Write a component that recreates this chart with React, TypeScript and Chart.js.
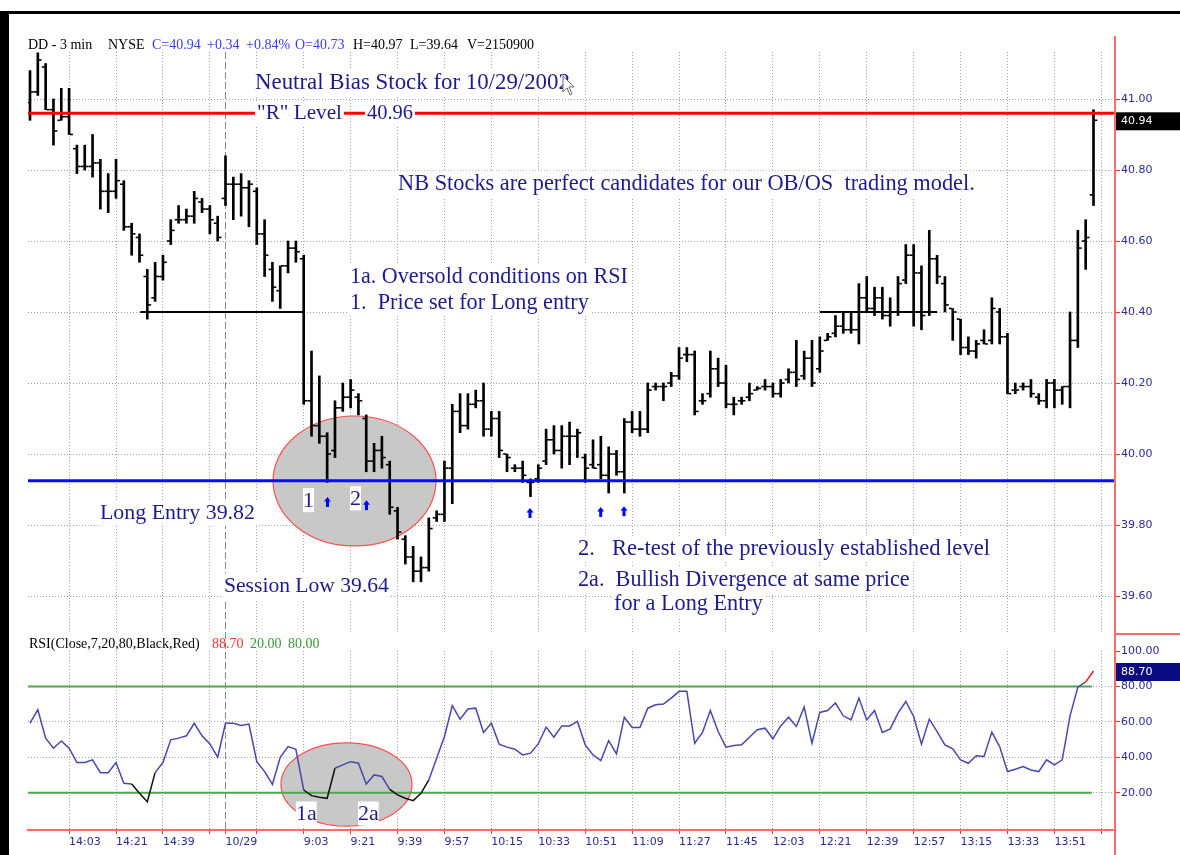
import React, { useEffect, useRef } from 'react';
import { Chart, registerables } from 'chart.js';

Chart.register(...registerables);

// ---------- DATA (3-min bars, DD, 10/28 13:48 -> 10/29 14:06) ----------
const barHigh = [41.08,41.13,41.10,41.00,41.03,41.03,40.87,40.87,40.90,40.83,
40.79,40.83,40.77,40.65,40.62,40.52,40.54,40.56,40.66,40.70,
40.69,40.74,40.72,40.70,40.67,40.84,40.78,40.79,40.77,40.75,
40.66,40.54,40.53,40.60,40.60,40.56,40.29,40.22,40.06,40.15,
40.20,40.21,40.17,40.11,40.03,40.05,39.98,39.85,39.77,39.74,
39.71,39.82,39.84,39.98,40.14,40.17,40.17,40.18,40.20,40.12,
40.12,40.00,39.97,39.98,39.93,39.97,40.07,40.08,40.08,40.09,
40.07,40.00,40.04,40.05,40.02,40.01,40.10,40.12,40.12,40.20,
40.20,40.20,40.23,40.30,40.30,40.29,40.17,40.29,40.27,40.25,
40.16,40.16,40.20,40.19,40.21,40.20,40.21,40.24,40.32,40.29,
40.32,40.33,40.34,40.39,40.40,40.40,40.48,40.50,40.47,40.47,
40.44,40.50,40.59,40.59,40.53,40.63,40.56,40.50,40.41,40.38,
40.33,40.32,40.35,40.44,40.41,40.34,40.20,40.20,40.21,40.17,
40.21,40.21,40.19,40.40,40.63,40.66,40.97];

const barLow = [40.94,41.01,40.97,40.87,40.94,40.90,40.79,40.80,40.78,40.69,
40.68,40.72,40.63,40.56,40.54,40.38,40.43,40.49,40.59,40.65,
40.65,40.65,40.68,40.62,40.60,40.70,40.66,40.67,40.64,40.59,
40.50,40.43,40.41,40.51,40.54,40.14,40.05,40.03,39.92,39.99,
40.12,40.13,40.11,39.95,39.95,39.96,39.83,39.76,39.69,39.64,
39.64,39.67,39.81,39.81,39.86,40.06,40.07,40.13,40.05,40.05,
39.99,39.95,39.95,39.92,39.88,39.92,39.97,40.00,39.96,39.97,
39.99,39.92,39.96,39.93,39.89,39.94,39.89,40.06,40.05,40.06,
40.18,40.15,40.19,40.21,40.26,40.11,40.14,40.16,40.19,40.13,
40.11,40.14,40.15,40.18,40.18,40.16,40.16,40.20,40.19,40.21,
40.19,40.23,40.32,40.33,40.34,40.34,40.31,40.40,40.39,40.38,
40.36,40.39,40.48,40.36,40.35,40.39,40.48,40.40,40.32,40.28,
40.28,40.27,40.31,40.31,40.31,40.17,40.17,40.18,40.16,40.14,
40.13,40.13,40.14,40.13,40.30,40.52,40.70];

const barOpen = [40.99,41.02,41.09,40.97,40.94,40.95,40.86,40.81,40.81,40.82,
40.74,40.74,40.76,40.64,40.61,40.50,40.44,40.50,40.60,40.66,
40.66,40.67,40.71,40.69,40.65,40.72,40.76,40.76,40.75,40.74,
40.62,40.52,40.46,40.53,40.58,40.55,40.15,40.08,40.05,40.01,
40.13,40.16,40.16,40.10,39.98,40.01,39.97,39.84,39.76,39.71,
39.67,39.68,39.82,39.83,39.96,40.12,40.08,40.14,40.15,40.07,
40.10,40.00,39.96,39.96,39.92,39.93,39.98,40.04,40.01,40.05,
40.05,39.99,39.97,39.97,39.94,40.00,39.95,40.09,40.07,40.07,
40.19,40.19,40.20,40.22,40.28,40.28,40.15,40.17,40.24,40.20,
40.14,40.15,40.16,40.18,40.19,40.19,40.17,40.21,40.23,40.22,
40.27,40.24,40.32,40.34,40.36,40.35,40.35,40.44,40.41,40.44,
40.39,40.40,40.49,40.56,40.51,40.40,40.55,40.48,40.41,40.38,
40.30,40.29,40.32,40.32,40.40,40.33,40.18,40.19,40.19,40.16,
40.15,40.20,40.18,40.19,40.32,40.60,40.73];

const barClose = [41.02,41.11,40.97,40.91,40.95,40.90,40.81,40.81,40.82,40.74,
40.74,40.77,40.64,40.62,40.56,40.42,40.50,40.54,40.63,40.66,
40.67,40.72,40.69,40.66,40.61,40.76,40.76,40.75,40.76,40.62,
40.56,40.47,40.53,40.58,40.57,40.15,40.08,40.05,40.00,40.13,
40.16,40.18,40.15,39.98,40.01,39.99,39.85,39.78,39.71,39.67,
39.68,39.79,39.83,39.96,40.12,40.08,40.14,40.15,40.07,40.10,
40.01,39.99,39.96,39.94,39.92,39.96,40.04,40.01,40.05,40.05,
40.06,39.96,39.96,39.94,40.00,39.95,40.09,40.07,40.07,40.18,
40.19,40.19,40.22,40.27,40.28,40.12,40.15,40.24,40.20,40.14,
40.14,40.15,40.17,40.185,40.19,40.17,40.20,40.23,40.21,40.27,
40.20,40.29,40.33,40.36,40.35,40.35,40.44,40.41,40.44,40.39,
40.40,40.48,40.56,40.51,40.39,40.55,40.50,40.42,40.40,40.30,
40.29,40.31,40.31,40.41,40.33,40.17,40.18,40.19,40.17,40.15,
40.20,40.18,40.19,40.32,40.58,40.61,40.94];

const rsiValues = [59.2,66.8,50.8,45.1,49.2,45.1,37,37,38.5,31.3,
31.3,37,25.3,24.9,19.6,14.9,31.3,37,49.8,50.8,
52.1,59.2,52.1,47.5,40,59.2,59.2,57.9,58.7,37.5,
31.9,24.7,40,46,44.5,21.5,18.3,17.4,16.8,33.8,
35.7,37.5,36.6,24.9,30,29.1,21.9,18.7,16.8,15.5,
19.6,27.2,39.4,51.7,69.1,61.5,67.2,67.7,54,59.2,
47.4,45.7,44.5,41.3,42.3,47.5,57,51.3,57.7,57.7,
60.2,47,41.3,38.1,49.4,41.9,62.6,56.8,56.8,67.7,
69.6,70,73.4,77.2,77.2,47.9,54,66.4,54.5,45.7,
46.6,47,51.3,55.5,56.4,50.4,57.7,62.6,57.4,68.3,
47.9,65.3,66.4,70.6,63.4,61.1,73.4,61.1,66.4,54,
56,64.9,71.5,63,47.4,61.5,54.5,47,44.7,38.5,
36.6,40.8,40.4,54.2,46,31.9,33.2,34.7,32.8,31.9,
38.5,35.7,38.5,63.4,79.6,82.5,88.7];

const priceTicks = [39.6, 39.8, 40.0, 40.2, 40.4, 40.6, 40.8, 41.0];
const rsiTicks = [20, 40, 60, 80, 100];
const xTickIndex = [5, 11, 17, 23, 25, 29, 35, 41, 47, 53, 59, 65, 71, 77, 83, 89, 95, 101, 107, 113, 119, 125, 131, 137];
const xTickLabels = ['14:03', '14:21', '14:39', '', '10/29', '', '9:03', '9:21', '9:39', '9:57', '10:15', '10:33', '10:51', '11:09', '11:27', '11:45', '12:03', '12:21', '12:39', '12:57', '13:15', '13:33', '13:51', ''];

const resistanceLevel = 40.96;
const entryLevel = 39.925;
const pivotLevel = 40.40;
const pivotSpans = [[14.1, 34.9], [101.0, 116.0]];
const dayBreakIndex = 25;
const overbought = 80;
const oversold = 20;
const rsiGuideEnd = 135.8;

// ---------- STYLE / LAYOUT ----------
const NAVY = '#1c1c8c';
const AXIS_NAVY = '#2a2a98';
const SERIF = '"Liberation Serif", "Times New Roman", serif';
const SANS = '"DejaVu Sans", Verdana, sans-serif';
const GRID = '#a2a2a2';
const AXIS_RED = '#ff6a6a';
const TICK_RED = '#ff3030';

const X_MIN = -0.256;
const X_MAX = 138.75;
const PRICE_MIN = 39.4986;
const PRICE_MAX = 41.1324;
const RSI_MIN = -1.1;
const RSI_MAX = 100;

type Note = { text: string; x: number; y: number; w: number };
const priceNotes: Note[] = [
  { text: 'Neutral Bias Stock for 10/29/2002', x: 28.77, y: 41.045, w: 315 },
  { text: '"R" Level', x: 29.03, y: 40.958, w: 85 },
  { text: '40.96', x: 43.09, y: 40.958, w: 46 },
  { text: 'NB Stocks are perfect candidates for our OB/OS  trading model.', x: 47.06, y: 40.761, w: 577 },
  { text: '1a. Oversold conditions on RSI', x: 40.92, y: 40.499, w: 278 },
  { text: '1.  Price set for Long entry', x: 40.92, y: 40.425, w: 239 },
  { text: 'Long Entry 39.82', x: 8.95, y: 39.834, w: 155 },
  { text: 'Session Low 39.64', x: 24.81, y: 39.628, w: 165 },
  { text: '2.   Re-test of the previously established level', x: 70.08, y: 39.732, w: 412 },
  { text: '2a.  Bullish Divergence at same price', x: 70.08, y: 39.645, w: 332 },
  { text: 'for a Long Entry', x: 74.68, y: 39.577, w: 149 },
];
const priceTags = [
  { text: '1', x: 34.91, y: 39.870 },
  { text: '2', x: 40.92, y: 39.875 },
];
const rsiTags = [
  { text: '1a', x: 34.0, y: 8.2 },
  { text: '2a', x: 41.94, y: 8.2 },
];
const arrowMarks = [
  { x: 38.04, y: 39.879 },
  { x: 43.03, y: 39.870 },
  { x: 63.94, y: 39.848 },
  { x: 72.98, y: 39.851 },
  { x: 75.96, y: 39.853 },
];
const cursorMark = { x: 68.16, y: 41.065 };
const priceEllipse = { x: 41.5, y: 39.924, rx: 10.42, ry: 0.183 };
const rsiEllipse = { x: 40.47, y: 24.6, rx: 8.38, ry: 23.5 };

const headerTokens = [
  { t: 'DD - 3 min', x: 28, c: '#000' },
  { t: 'NYSE', x: 108, c: '#000' },
  { t: 'C=40.94', x: 152, c: '#3b3bff' },
  { t: '+0.34', x: 207, c: '#3b3bff' },
  { t: '+0.84%', x: 246, c: '#3b3bff' },
  { t: 'O=40.73', x: 295, c: '#3b3bff' },
  { t: 'H=40.97', x: 353, c: '#000' },
  { t: 'L=39.64', x: 410, c: '#000' },
  { t: 'V=2150900', x: 467, c: '#000' },
];
const rsiHeaderTokens = [
  { t: 'RSI(Close,7,20,80,Black,Red)', x: 29, c: '#000' },
  { t: '88.70', x: 212, c: '#ff3030' },
  { t: '20.00', x: 250, c: '#3a9a3a' },
  { t: '80.00', x: 288, c: '#3a9a3a' },
];

// ---------- helpers ----------
function drawEllipse(ctx: CanvasRenderingContext2D, xs: any, ys: any, e: any) {
  const cx = xs.getPixelForValue(e.x);
  const cy = ys.getPixelForValue(e.y);
  const rx = Math.abs(xs.getPixelForValue(e.x + e.rx) - cx);
  const ry = Math.abs(ys.getPixelForValue(e.y + e.ry) - cy);
  ctx.beginPath();
  ctx.ellipse(cx, cy, rx, ry, 0, 0, Math.PI * 2);
  ctx.fillStyle = '#c8c8c8';
  ctx.fill();
  ctx.strokeStyle = '#ff4c4c';
  ctx.lineWidth = 1.2;
  ctx.stroke();
}

function drawNote(ctx: CanvasRenderingContext2D, text: string, x: number, cy: number, w: number) {
  ctx.font = `20px ${SERIF}`;
  const m = ctx.measureText(text).width;
  const size = (20 * w) / m;
  ctx.font = `${size}px ${SERIF}`;
  const h = size * 1.18;
  ctx.fillStyle = '#ffffff';
  ctx.fillRect(x - 2, cy - h / 2, w + 4, h);
  ctx.fillStyle = NAVY;
  ctx.textAlign = 'left';
  ctx.textBaseline = 'middle';
  ctx.fillText(text, x, cy);
}

function drawTag(ctx: CanvasRenderingContext2D, text: string, x: number, cy: number) {
  ctx.font = `22px ${SERIF}`;
  const w = ctx.measureText(text).width;
  ctx.fillStyle = '#ffffff';
  ctx.fillRect(x, cy - 12, w, 24);
  ctx.fillStyle = NAVY;
  ctx.textAlign = 'left';
  ctx.textBaseline = 'middle';
  ctx.fillText(text, x, cy + 1);
}

function drawArrow(ctx: CanvasRenderingContext2D, px: number, py: number) {
  ctx.fillStyle = '#0000ff';
  ctx.beginPath();
  ctx.moveTo(px, py);
  ctx.lineTo(px + 3.5, py + 4.5);
  ctx.lineTo(px - 3.5, py + 4.5);
  ctx.closePath();
  ctx.fill();
  ctx.fillRect(px - 1.5, py + 4, 3, 6);
}

function drawCursor(ctx: CanvasRenderingContext2D, px: number, py: number) {
  ctx.beginPath();
  ctx.moveTo(px, py);
  ctx.lineTo(px, py + 16);
  ctx.lineTo(px + 4, py + 12);
  ctx.lineTo(px + 7, py + 19);
  ctx.lineTo(px + 9, py + 18);
  ctx.lineTo(px + 6, py + 11);
  ctx.lineTo(px + 11, py + 11);
  ctx.closePath();
  ctx.fillStyle = '#ffffff';
  ctx.fill();
  ctx.strokeStyle = '#6a6a6a';
  ctx.lineWidth = 1;
  ctx.stroke();
}

function drawTokens(ctx: CanvasRenderingContext2D, tokens: any[], y: number) {
  ctx.font = `14px ${SERIF}`;
  ctx.textAlign = 'left';
  ctx.textBaseline = 'middle';
  tokens.forEach((tk) => {
    ctx.fillStyle = tk.c;
    ctx.fillText(tk.t, tk.x, y);
  });
}

function dayBreak(ctx: CanvasRenderingContext2D, xs: any, top: number, bottom: number) {
  const dx = Math.round(xs.getPixelForValue(dayBreakIndex)) + 0.5;
  ctx.save();
  ctx.strokeStyle = '#8a8a8a';
  ctx.lineWidth = 1;
  ctx.setLineDash([7, 3]);
  ctx.beginPath();
  ctx.moveTo(dx, top);
  ctx.lineTo(dx, bottom);
  ctx.stroke();
  ctx.restore();
}

const zeroPad = (s: any) => {
  s.paddingTop = 0;
  s.paddingBottom = 0;
  s.paddingLeft = 0;
  s.paddingRight = 0;
};

const xTicksBuilder = (s: any) => {
  s.ticks = xTickIndex.map((v) => ({ value: v }));
};
const xGridColor = (c: any) => (c.tick && c.tick.value === dayBreakIndex ? 'rgba(0,0,0,0)' : GRID);
const axisFont = { family: SANS, size: 11 };

export default function App() {
  const priceRef = useRef<HTMLCanvasElement | null>(null);
  const rsiRef = useRef<HTMLCanvasElement | null>(null);

  useEffect(() => {
    if (!priceRef.current || !rsiRef.current) return;

    const pricePlugin = {
      id: 'priceDecor',
      beforeDatasetsDraw(chart: any) {
        const { ctx, chartArea, scales } = chart;
        ctx.save();
        dayBreak(ctx, scales.x, chartArea.top, chartArea.bottom);
        drawEllipse(ctx, scales.x, scales.y, priceEllipse);
        ctx.restore();
      },
      afterDatasetsDraw(chart: any) {
        const { ctx, scales } = chart;
        ctx.save();
        priceNotes.forEach((n) => drawNote(ctx, n.text, scales.x.getPixelForValue(n.x), scales.y.getPixelForValue(n.y), n.w));
        priceTags.forEach((t) => drawTag(ctx, t.text, scales.x.getPixelForValue(t.x), scales.y.getPixelForValue(t.y)));
        arrowMarks.forEach((a) => drawArrow(ctx, scales.x.getPixelForValue(a.x), scales.y.getPixelForValue(a.y)));
        drawCursor(ctx, scales.x.getPixelForValue(cursorMark.x), scales.y.getPixelForValue(cursorMark.y));
        ctx.restore();
      },
      afterDraw(chart: any) {
        const { ctx, chartArea, scales, width, height } = chart;
        ctx.save();
        ctx.fillStyle = '#000';
        ctx.fillRect(0, 11, width, 3);
        ctx.fillRect(0, 11, 9, height - 11);
        drawTokens(ctx, headerTokens, 45);
        ctx.fillStyle = AXIS_RED;
        ctx.fillRect(chartArea.right - 1, 36, 2, height - 36);
        const last = barClose[barClose.length - 1];
        const ly = scales.y.getPixelForValue(last);
        ctx.fillStyle = '#000';
        ctx.fillRect(chartArea.right + 1, ly - 8, width - chartArea.right - 1, 18);
        ctx.fillStyle = '#fff';
        ctx.font = `11px ${SANS}`;
        ctx.textBaseline = 'middle';
        ctx.textAlign = 'left';
        ctx.fillText(last.toFixed(2), chartArea.right + 6, ly + 1);
        ctx.restore();
      },
    };

    const rsiPlugin = {
      id: 'rsiDecor',
      beforeDatasetsDraw(chart: any) {
        const { ctx, chartArea, scales } = chart;
        ctx.save();
        dayBreak(ctx, scales.x, 0, chartArea.bottom);
        drawEllipse(ctx, scales.x, scales.y, rsiEllipse);
        ctx.restore();
      },
      afterDatasetsDraw(chart: any) {
        const { ctx, scales } = chart;
        ctx.save();
        rsiTags.forEach((t) => drawTag(ctx, t.text, scales.x.getPixelForValue(t.x), scales.y.getPixelForValue(t.y)));
        ctx.restore();
      },
      afterDraw(chart: any) {
        const { ctx, chartArea, scales, width, height } = chart;
        ctx.save();
        ctx.fillStyle = '#000';
        ctx.fillRect(0, 0, 9, height);
        drawTokens(ctx, rsiHeaderTokens, 12);
        ctx.fillStyle = AXIS_RED;
        ctx.fillRect(chartArea.right - 1, 0, 2, height);
        ctx.fillRect(chartArea.right, 1, width - chartArea.right, 2);
        const last = rsiValues[rsiValues.length - 1];
        const ly = scales.y.getPixelForValue(last);
        ctx.fillStyle = '#0c0c82';
        ctx.fillRect(chartArea.right + 1, ly - 8, width - chartArea.right - 1, 18);
        ctx.fillStyle = '#fff';
        ctx.font = `11px ${SANS}`;
        ctx.textBaseline = 'middle';
        ctx.textAlign = 'left';
        ctx.fillText(last.toFixed(2), chartArea.right + 6, ly + 1);
        ctx.restore();
      },
    };

    const hLine = (y: number, x0: number, x1: number) => [
      { x: x0, y },
      { x: x1, y },
    ];

    const priceChart = new Chart(priceRef.current, {
      type: 'bar',
      data: {
        datasets: [
          { type: 'line', data: hLine(resistanceLevel, X_MIN, X_MAX), borderColor: '#ff0000', borderWidth: 3, pointRadius: 0, order: 0 } as any,
          { type: 'line', data: hLine(entryLevel, X_MIN, X_MAX), borderColor: '#0a0aff', borderWidth: 3, pointRadius: 0, order: 0 } as any,
          ...pivotSpans.map((s) => ({ type: 'line', data: hLine(pivotLevel, s[0], s[1]), borderColor: '#000', borderWidth: 2, pointRadius: 0, order: 0 } as any)),
          {
            type: 'scatter',
            data: barOpen.map((o, i) => ({ x: i - 0.3, y: o })),
            pointStyle: 'line', pointRadius: 1.5, pointHoverRadius: 1.5, pointBorderColor: '#000', pointBorderWidth: 1.6, order: 1,
          } as any,
          {
            type: 'scatter',
            data: barClose.map((c, i) => ({ x: i + 0.3, y: c })),
            pointStyle: 'line', pointRadius: 1.5, pointHoverRadius: 1.5, pointBorderColor: '#000', pointBorderWidth: 1.6, order: 1,
          } as any,
          {
            type: 'bar',
            data: barHigh.map((h, i) => ({ x: i, y: [barLow[i], h] })),
            backgroundColor: '#000', borderWidth: 0, barThickness: 2, order: 2,
          } as any,
        ],
      },
      options: {
        responsive: false,
        animation: false,
        events: [],
        layout: { autoPadding: false, padding: { top: 52, left: 28, right: 0, bottom: 0 } },
        plugins: { legend: { display: false }, tooltip: { enabled: false } },
        scales: {
          x: {
            type: 'linear', min: X_MIN, max: X_MAX, offset: false,
            afterBuildTicks: xTicksBuilder,
            afterFit: (s: any) => { s.height = 0; zeroPad(s); },
            ticks: { display: false },
            grid: { color: xGridColor, drawTicks: false, offset: false, lineWidth: 1 },
            border: { display: false, dash: [1, 2] },
          },
          y: {
            type: 'linear', position: 'right', min: PRICE_MIN, max: PRICE_MAX,
            afterBuildTicks: (s: any) => { s.ticks = priceTicks.map((v) => ({ value: v })); },
            afterFit: (s: any) => { s.width = 65; zeroPad(s); },
            ticks: { color: AXIS_NAVY, font: axisFont, padding: 1, callback: (v: any) => Number(v).toFixed(2) },
            grid: { color: GRID, tickColor: TICK_RED, tickLength: 5, tickWidth: 1, tickBorderDash: [] },
            border: { display: false, dash: [1, 2] },
          },
        },
      } as any,
      plugins: [pricePlugin],
    });

    const rsiChart = new Chart(rsiRef.current, {
      type: 'line',
      data: {
        datasets: [
          {
            data: rsiValues.map((v, i) => ({ x: i, y: v })),
            borderColor: '#4848ac', borderWidth: 1.5, pointRadius: 0, pointHoverRadius: 0, tension: 0, order: 0,
            segment: {
              borderColor: (c: any) => {
                const a = c.p0.parsed.y;
                const b = c.p1.parsed.y;
                if (a > overbought && b > overbought) return '#ff2020';
                if (a < oversold || b < oversold) return '#101010';
                return undefined;
              },
            },
          } as any,
          { data: hLine(overbought, X_MIN, rsiGuideEnd), borderColor: '#4ea64e', borderWidth: 2, pointRadius: 0, pointHoverRadius: 0, order: 1 } as any,
          { data: hLine(oversold, X_MIN, rsiGuideEnd), borderColor: '#4ea64e', borderWidth: 2, pointRadius: 0, pointHoverRadius: 0, order: 1 } as any,
        ],
      },
      options: {
        responsive: false,
        animation: false,
        events: [],
        layout: { autoPadding: false, padding: { top: 19, left: 28, right: 0, bottom: 0 } },
        plugins: { legend: { display: false }, tooltip: { enabled: false } },
        scales: {
          x: {
            type: 'linear', min: X_MIN, max: X_MAX, offset: false,
            afterBuildTicks: xTicksBuilder,
            afterFit: (s: any) => { s.height = 25; zeroPad(s); },
            ticks: {
              display: true, autoSkip: false, maxRotation: 0, minRotation: 0, align: 'start',
              color: AXIS_NAVY, font: axisFont, padding: 2,
              callback: (v: any) => {
                const k = xTickIndex.indexOf(Number(v));
                return k >= 0 ? xTickLabels[k] : '';
              },
            },
            grid: { color: xGridColor, tickColor: TICK_RED, tickLength: 4, tickWidth: 1, tickBorderDash: [], offset: false },
            border: { display: true, color: AXIS_RED, width: 2, dash: [1, 2] },
          },
          y: {
            type: 'linear', position: 'right', min: RSI_MIN, max: RSI_MAX,
            afterBuildTicks: (s: any) => { s.ticks = rsiTicks.map((v) => ({ value: v })); },
            afterFit: (s: any) => { s.width = 65; zeroPad(s); },
            ticks: { color: AXIS_NAVY, font: axisFont, padding: 1, callback: (v: any) => Number(v).toFixed(2) },
            grid: {
              color: (c: any) => (c.tick && c.tick.value === RSI_MAX ? 'rgba(0,0,0,0)' : GRID),
              tickColor: TICK_RED, tickLength: 5, tickWidth: 1, tickBorderDash: [],
            },
            border: { display: false, dash: [1, 2] },
          },
        },
      } as any,
      plugins: [rsiPlugin],
    });

    return () => {
      priceChart.destroy();
      rsiChart.destroy();
    };
  }, []);

  return (
    <div style={{ position: 'absolute', left: 0, top: 0, width: 1180, height: 855, background: '#fff', overflow: 'hidden' }}>
      <canvas ref={priceRef} width={1180} height={632} style={{ position: 'absolute', left: 0, top: 0, width: 1180, height: 632 }} />
      <canvas ref={rsiRef} width={1180} height={223} style={{ position: 'absolute', left: 0, top: 632, width: 1180, height: 223 }} />
    </div>
  );
}
